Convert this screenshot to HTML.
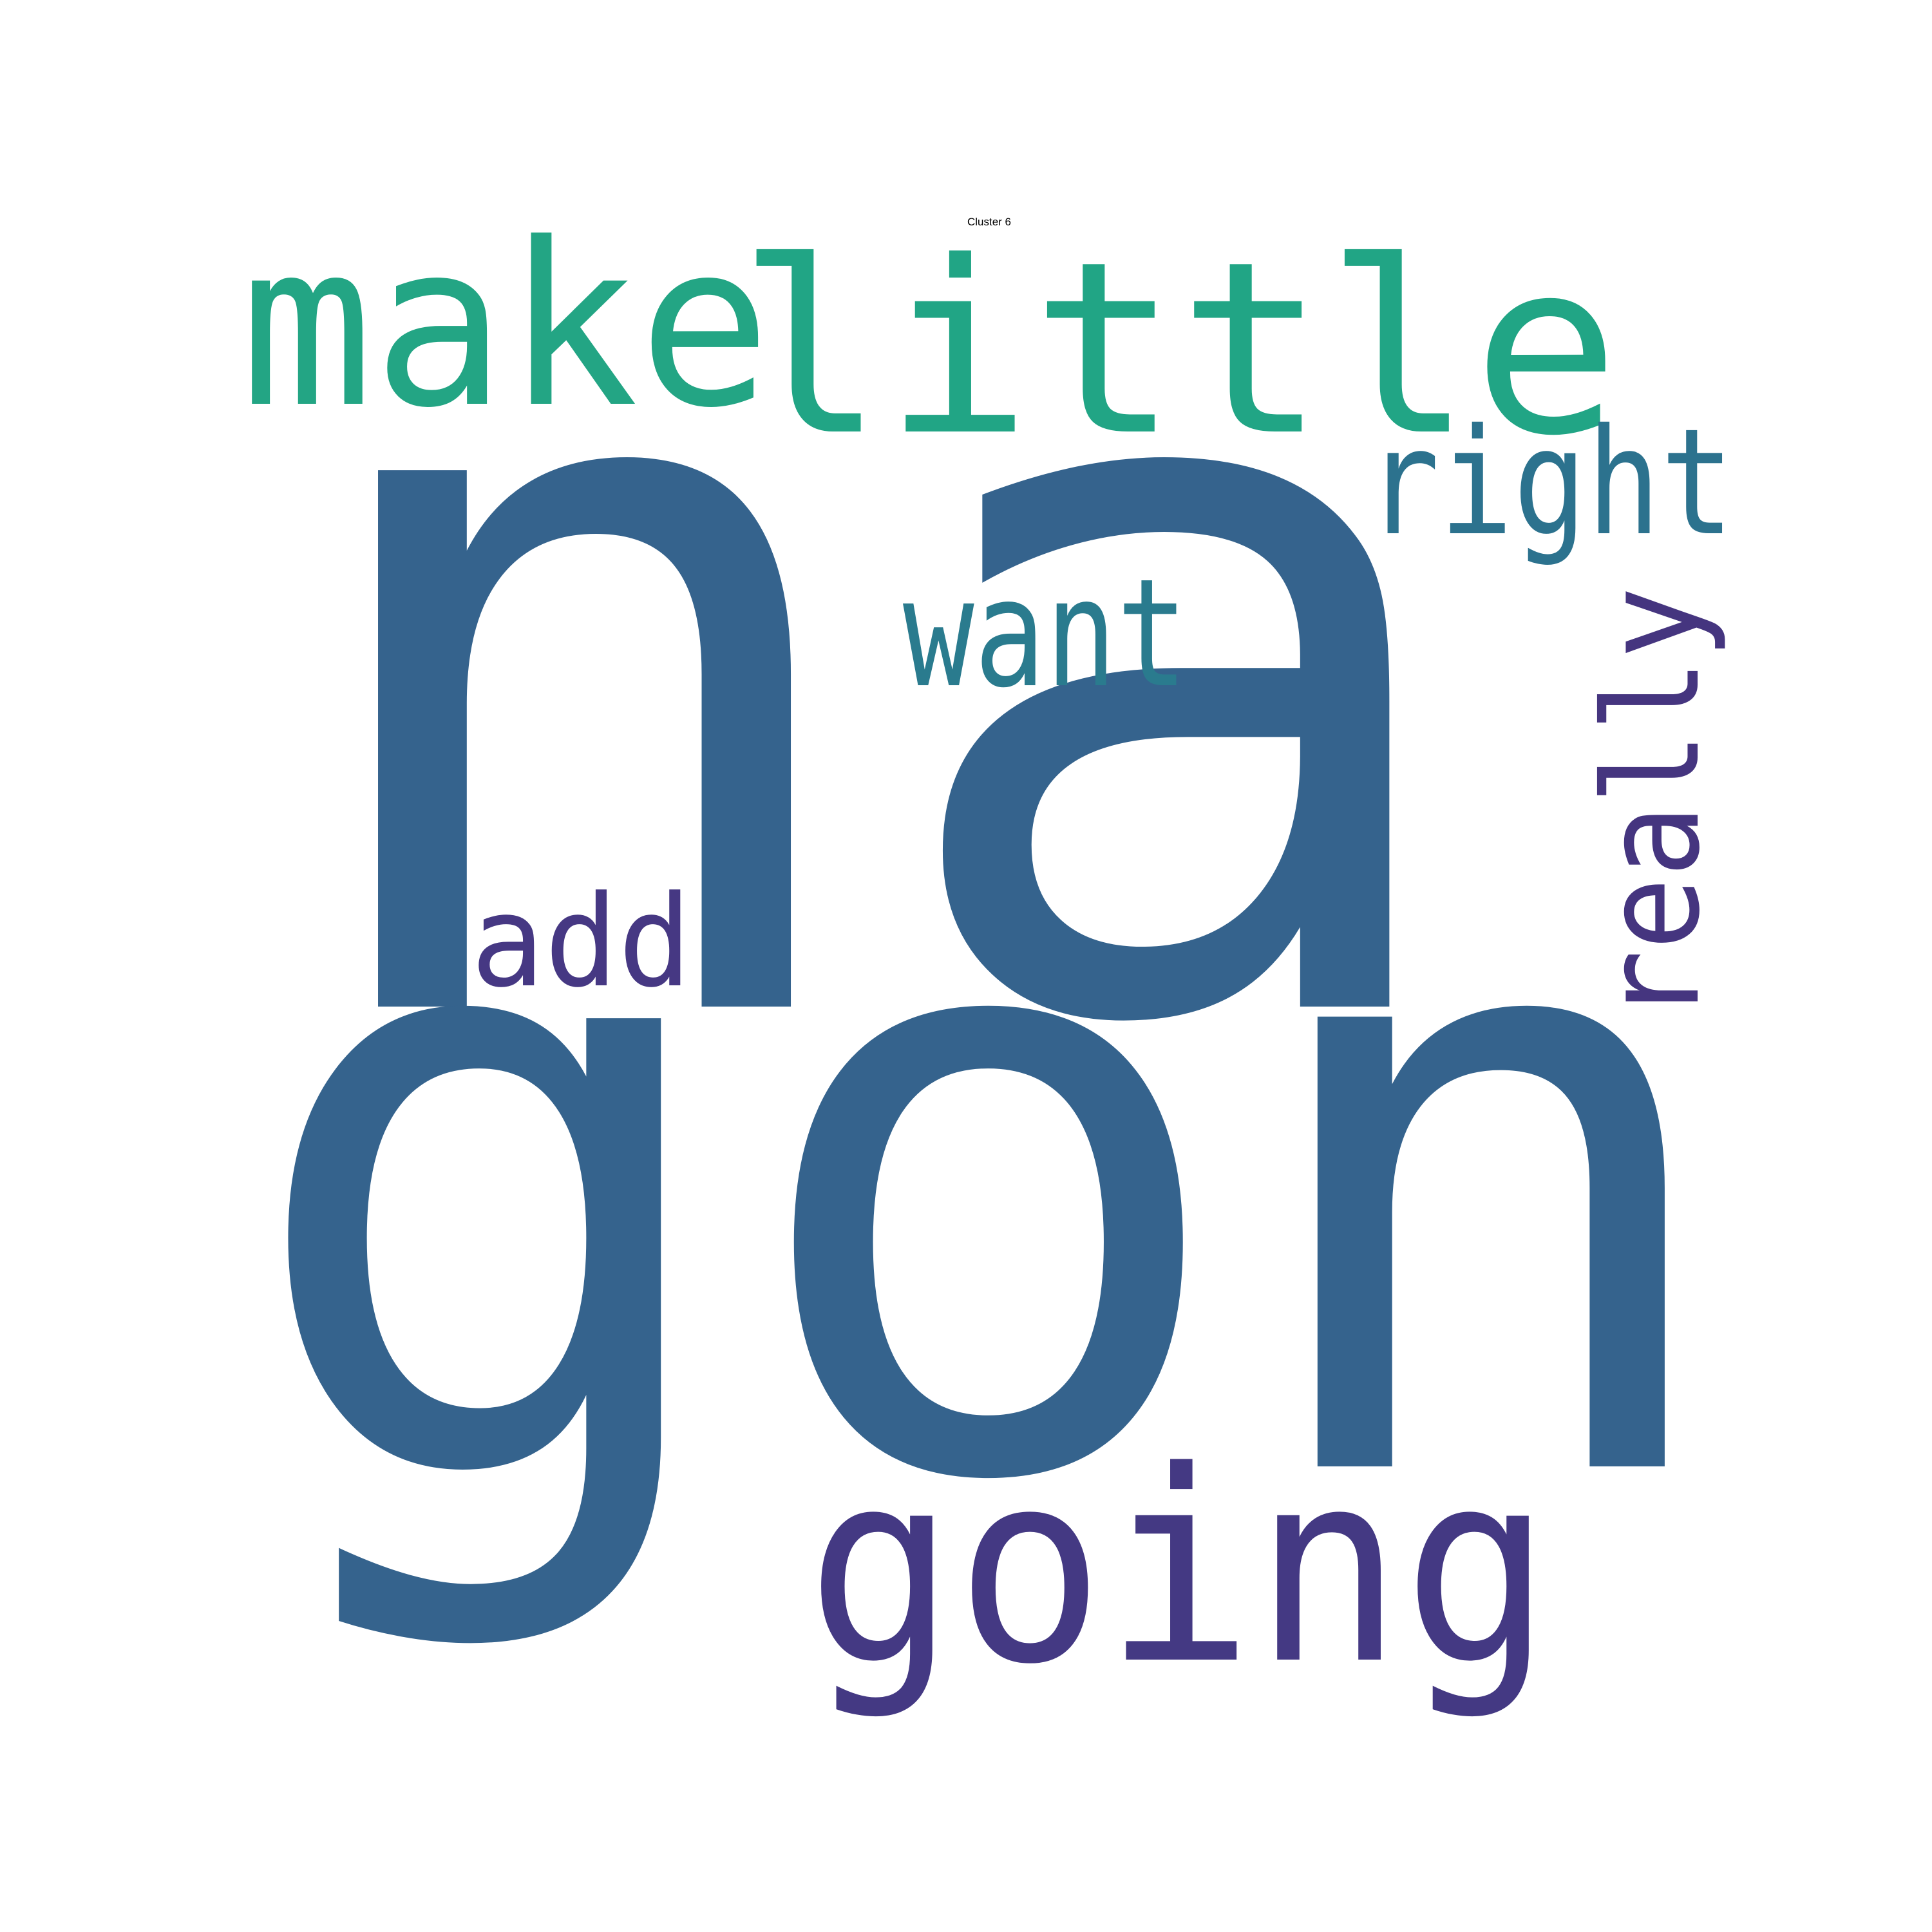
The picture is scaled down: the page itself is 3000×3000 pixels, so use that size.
<!DOCTYPE html>
<html><head><meta charset="utf-8"><style>
html,body{margin:0;padding:0;background:#fff;}
svg{display:block}
</style></head><body>
<svg width="3000" height="3000" viewBox="0 0 3000 3000" xmlns="http://www.w3.org/2000/svg">
<rect width="3000" height="3000" fill="#ffffff"/>
<text x="1536" y="350" font-family="Liberation Sans, sans-serif" font-size="17" text-anchor="middle" fill="#000">Cluster 6</text>
<g id="words"></g>
</svg>
<script>
const words = ["na","gon","make","little","right","want","add","really","going"];
const weights = [1.0,0.84,0.23,0.24,0.15,0.15,0.13,0.13,0.27];
const colors = ["#35638d","#35638d","#23a584","#21a585","#2c728e","#2a7b8e","#463883","#45357f","#443983"];
const layout = [
 {x:441,y:1563,fs:1523,sx:1.007,rot:false},
 {x:370,y:2277,fs:1277,sx:1.01,rot:false},
 {x:373,y:627,fs:350,sx:0.978,rot:false},
 {x:1145,y:670,fs:370,sx:1.025,rot:false},
 {x:2121,y:828,fs:228,sx:0.833,rot:false},
 {x:1402,y:1064,fs:232,sx:0.792,rot:false},
 {x:731,y:1530,fs:196,sx:0.969,rot:false},
 {x:2636,y:1588,fs:204,sx:0.919,rot:true},
 {x:1252,y:2577,fs:410,sx:0.938,rot:false}
];
const g = document.getElementById('words');
const NS = "http://www.w3.org/2000/svg";
words.forEach((wd,i)=>{
  const L = layout[i];
  const t = document.createElementNS(NS,'text');
  
  
  t.setAttribute('x', 0);
  t.setAttribute('y', 0);
  t.setAttribute('font-size', L.fs);
  t.setAttribute('font-family', 'DejaVu Sans Mono, monospace');
  t.setAttribute('fill', colors[i]);
  const rot = L.rot ? ' rotate(-90)' : '';
  t.setAttribute('transform', 'translate(' + L.x + ' ' + L.y + ')' + rot + ' scale(' + L.sx + ' 1)');
  t.textContent = wd;
  g.appendChild(t);
});
</script>
</body></html>
